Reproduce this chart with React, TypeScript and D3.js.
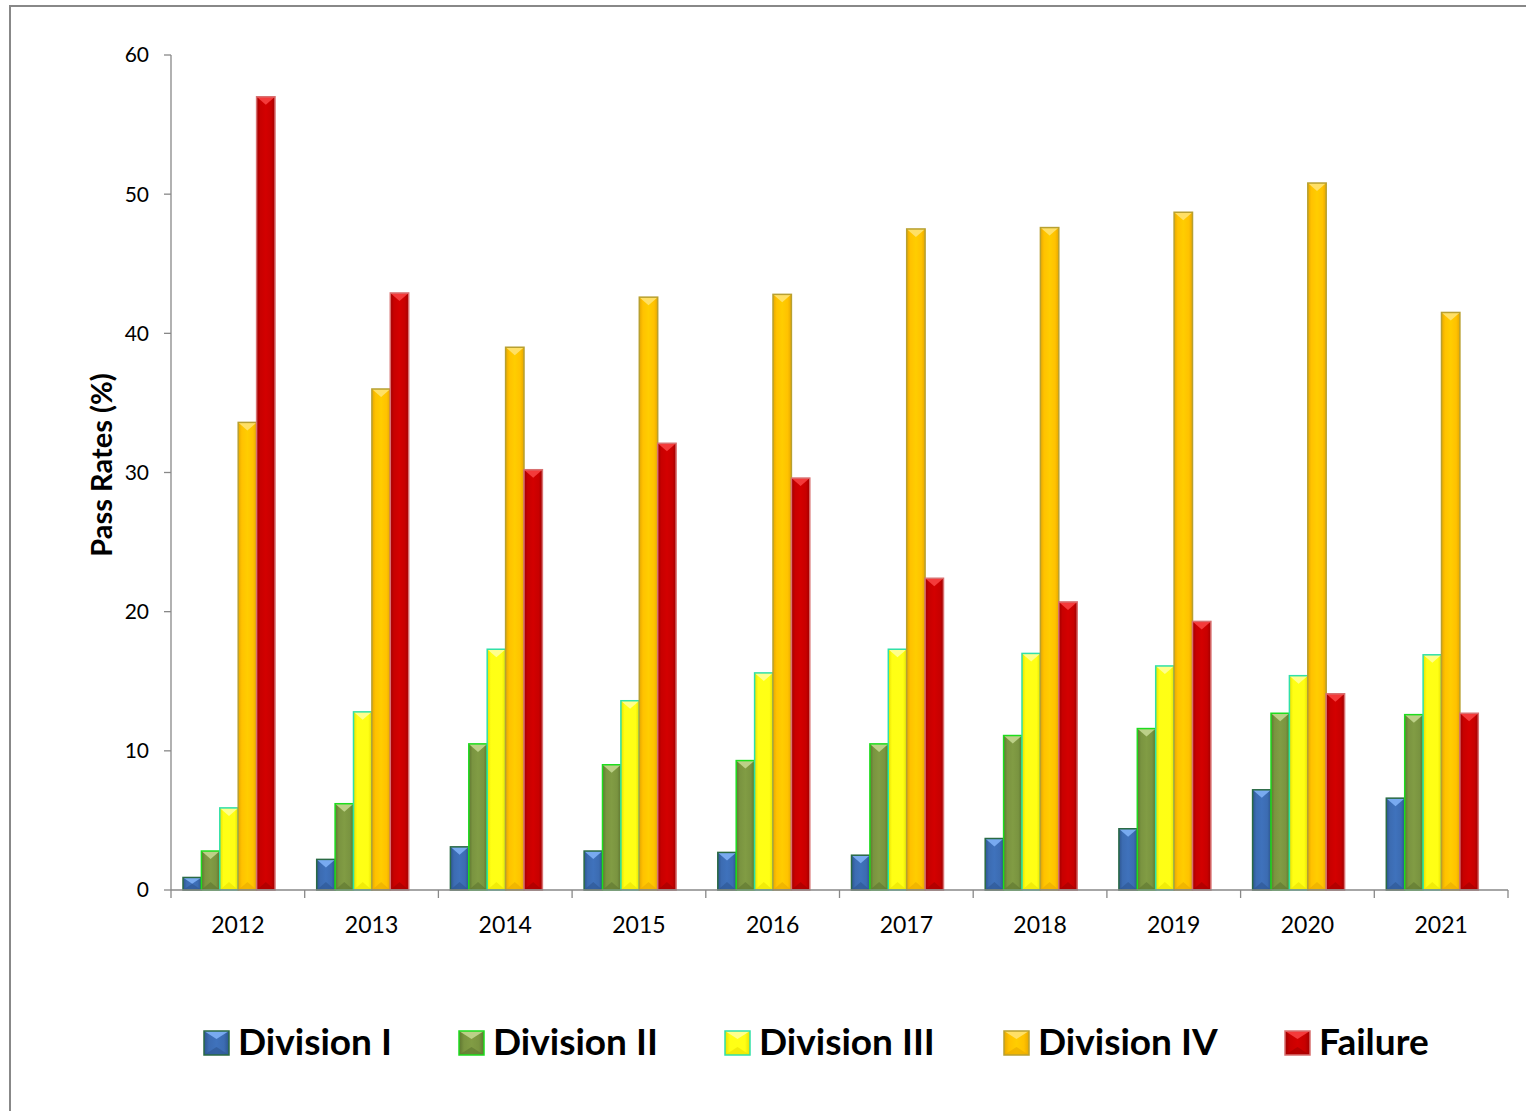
import React from 'react';
import * as d3 from 'd3';

// chart data
const years = ['2012', '2013', '2014', '2015', '2016', '2017', '2018', '2019', '2020', '2021'];
const seriesNames = ['Division I', 'Division II', 'Division III', 'Division IV', 'Failure'];
const divisionI = [0.9, 2.2, 3.1, 2.8, 2.7, 2.5, 3.7, 4.4, 7.2, 6.6];
const divisionII = [2.8, 6.2, 10.5, 9.0, 9.3, 10.5, 11.1, 11.6, 12.7, 12.6];
const divisionIII = [5.9, 12.8, 17.3, 13.6, 15.6, 17.3, 17.0, 16.1, 15.4, 16.9];
const divisionIV = [33.6, 36.0, 39.0, 42.6, 42.8, 47.5, 47.6, 48.7, 50.8, 41.5];
const failure = [57.0, 42.9, 30.2, 32.1, 29.6, 22.4, 20.7, 19.3, 14.1, 12.7];
const yTicks = [0, 10, 20, 30, 40, 50, 60];

const seriesValues = [divisionI, divisionII, divisionIII, divisionIV, failure];

// look of each series: body, lighter bevel, darker bevel, outline
const styles = [
  { body: '#3C6CB2', light: '#78AAF0', dark: '#2D5590', edge: '#2A6A44' },
  { body: '#7A9440', light: '#BCD088', dark: '#5E7530', edge: '#1EDC1E' },
  { body: '#FFFF14', light: '#FFFF8C', dark: '#E8E000', edge: '#30E0A8' },
  { body: '#FFC200', light: '#FFE066', dark: '#E8A800', edge: '#B8A030' },
  { body: '#C80000', light: '#F43A3A', dark: '#A00000', edge: '#D87070' },
];

const W = 1526;
const H = 1111;
const left = 171;
const right = 1508;
const top = 55;
const bottom = 890;
const font = 'Lato, "Open Sans", sans-serif';

const App = () => {
  const x = d3.scaleBand<string>().domain(years).range([left, right]).paddingInner(0).paddingOuter(0);
  const y = d3.scaleLinear().domain([0, 60]).range([bottom, top]);
  const inner = d3.scaleBand<string>().domain(seriesNames).range([12, 104]);
  const bw = inner.bandwidth();

  const legendX = [204, 459, 725, 1004, 1285];

  const bevel = (x0: number, y0: number, w: number, h: number, s: typeof styles[0], key: string) => {
    const d = Math.min(8, h / 2);
    const x1 = x0 + w;
    const y1 = y0 + h;
    const cx = x0 + w / 2;
    return (
      <g key={key}>
        <rect x={x0} y={y0} width={w} height={h} fill={`url(#g-${key.split('-')[0]})`} />
        <path d={`M${x0},${y0}L${x1},${y0}L${cx},${y0 + d}Z`} fill={s.light} />
        <path d={`M${x0},${y1}L${x1},${y1}L${cx},${y1 - d}Z`} fill={s.dark} opacity={0.6} />
        <rect x={x0} y={y0} width={w} height={h} fill="none" stroke={s.edge} strokeWidth={1.5} />
      </g>
    );
  };

  return (
    <svg width={W} height={H} style={{ position: 'absolute', left: 0, top: 0, background: '#fff' }}>
      <defs>
        {styles.map((s, i) => (
          <linearGradient key={i} id={`g-s${i}`} x1="0" x2="1" y1="0" y2="0">
            <stop offset="0" stopColor={s.dark} />
            <stop offset="0.2" stopColor={s.body} />
            <stop offset="0.5" stopColor={d3.color(s.body)!.brighter(0.15).formatHex()} />
            <stop offset="0.8" stopColor={s.body} />
            <stop offset="1" stopColor={s.dark} />
          </linearGradient>
        ))}
      </defs>
      <rect x={10} y={6} width={W} height={H} fill="#fff" stroke="#888" strokeWidth={2} />

      {/* y axis */}
      <line x1={left} x2={left} y1={top} y2={bottom} stroke="#888" strokeWidth={1.3} />
      {yTicks.map((t) => (
        <g key={t}>
          <line x1={left - 7} x2={left} y1={y(t)} y2={y(t)} stroke="#888" strokeWidth={1.3} />
          <text x={149} y={y(t)} dy="0.35em" textAnchor="end" fontFamily={font} fontSize={21}>
            {t}
          </text>
        </g>
      ))}
      <text
        transform={`translate(112,${465}) rotate(-90)`}
        textAnchor="middle"
        fontFamily={font}
        fontWeight="bold"
        fontSize={29}
      >
        Pass Rates (%)
      </text>

      {/* bars */}
      {years.map((yr, i) => (
        <g key={yr}>
          {seriesNames.map((sn, k) => {
            const v = seriesValues[k][i];
            const x0 = x(yr)! + inner(sn)!;
            return bevel(x0, y(v), bw, bottom - y(v), styles[k], `s${k}-${i}`);
          })}
        </g>
      ))}

      {/* x axis */}
      <line x1={left} x2={right} y1={bottom} y2={bottom} stroke="#888" strokeWidth={1.3} />
      {years.map((yr) => (
        <line key={yr} x1={x(yr)!} x2={x(yr)!} y1={bottom} y2={bottom + 8} stroke="#888" strokeWidth={1.3} />
      ))}
      <line x1={right} x2={right} y1={bottom} y2={bottom + 8} stroke="#888" strokeWidth={1.3} />
      {years.map((yr) => (
        <text key={yr} x={x(yr)! + x.bandwidth() / 2} y={933} textAnchor="middle" fontFamily={font} fontSize={23}>
          {yr}
        </text>
      ))}

      {/* legend */}
      {seriesNames.map((sn, k) => (
        <g key={sn}>
          {bevel(legendX[k], 1031, 25, 24, styles[k], `s${k}-leg`)}
          <text x={legendX[k] + 34} y={1055} fontFamily={font} fontWeight="bold" fontSize={37}>
            {sn}
          </text>
        </g>
      ))}
    </svg>
  );
};

export default App;
